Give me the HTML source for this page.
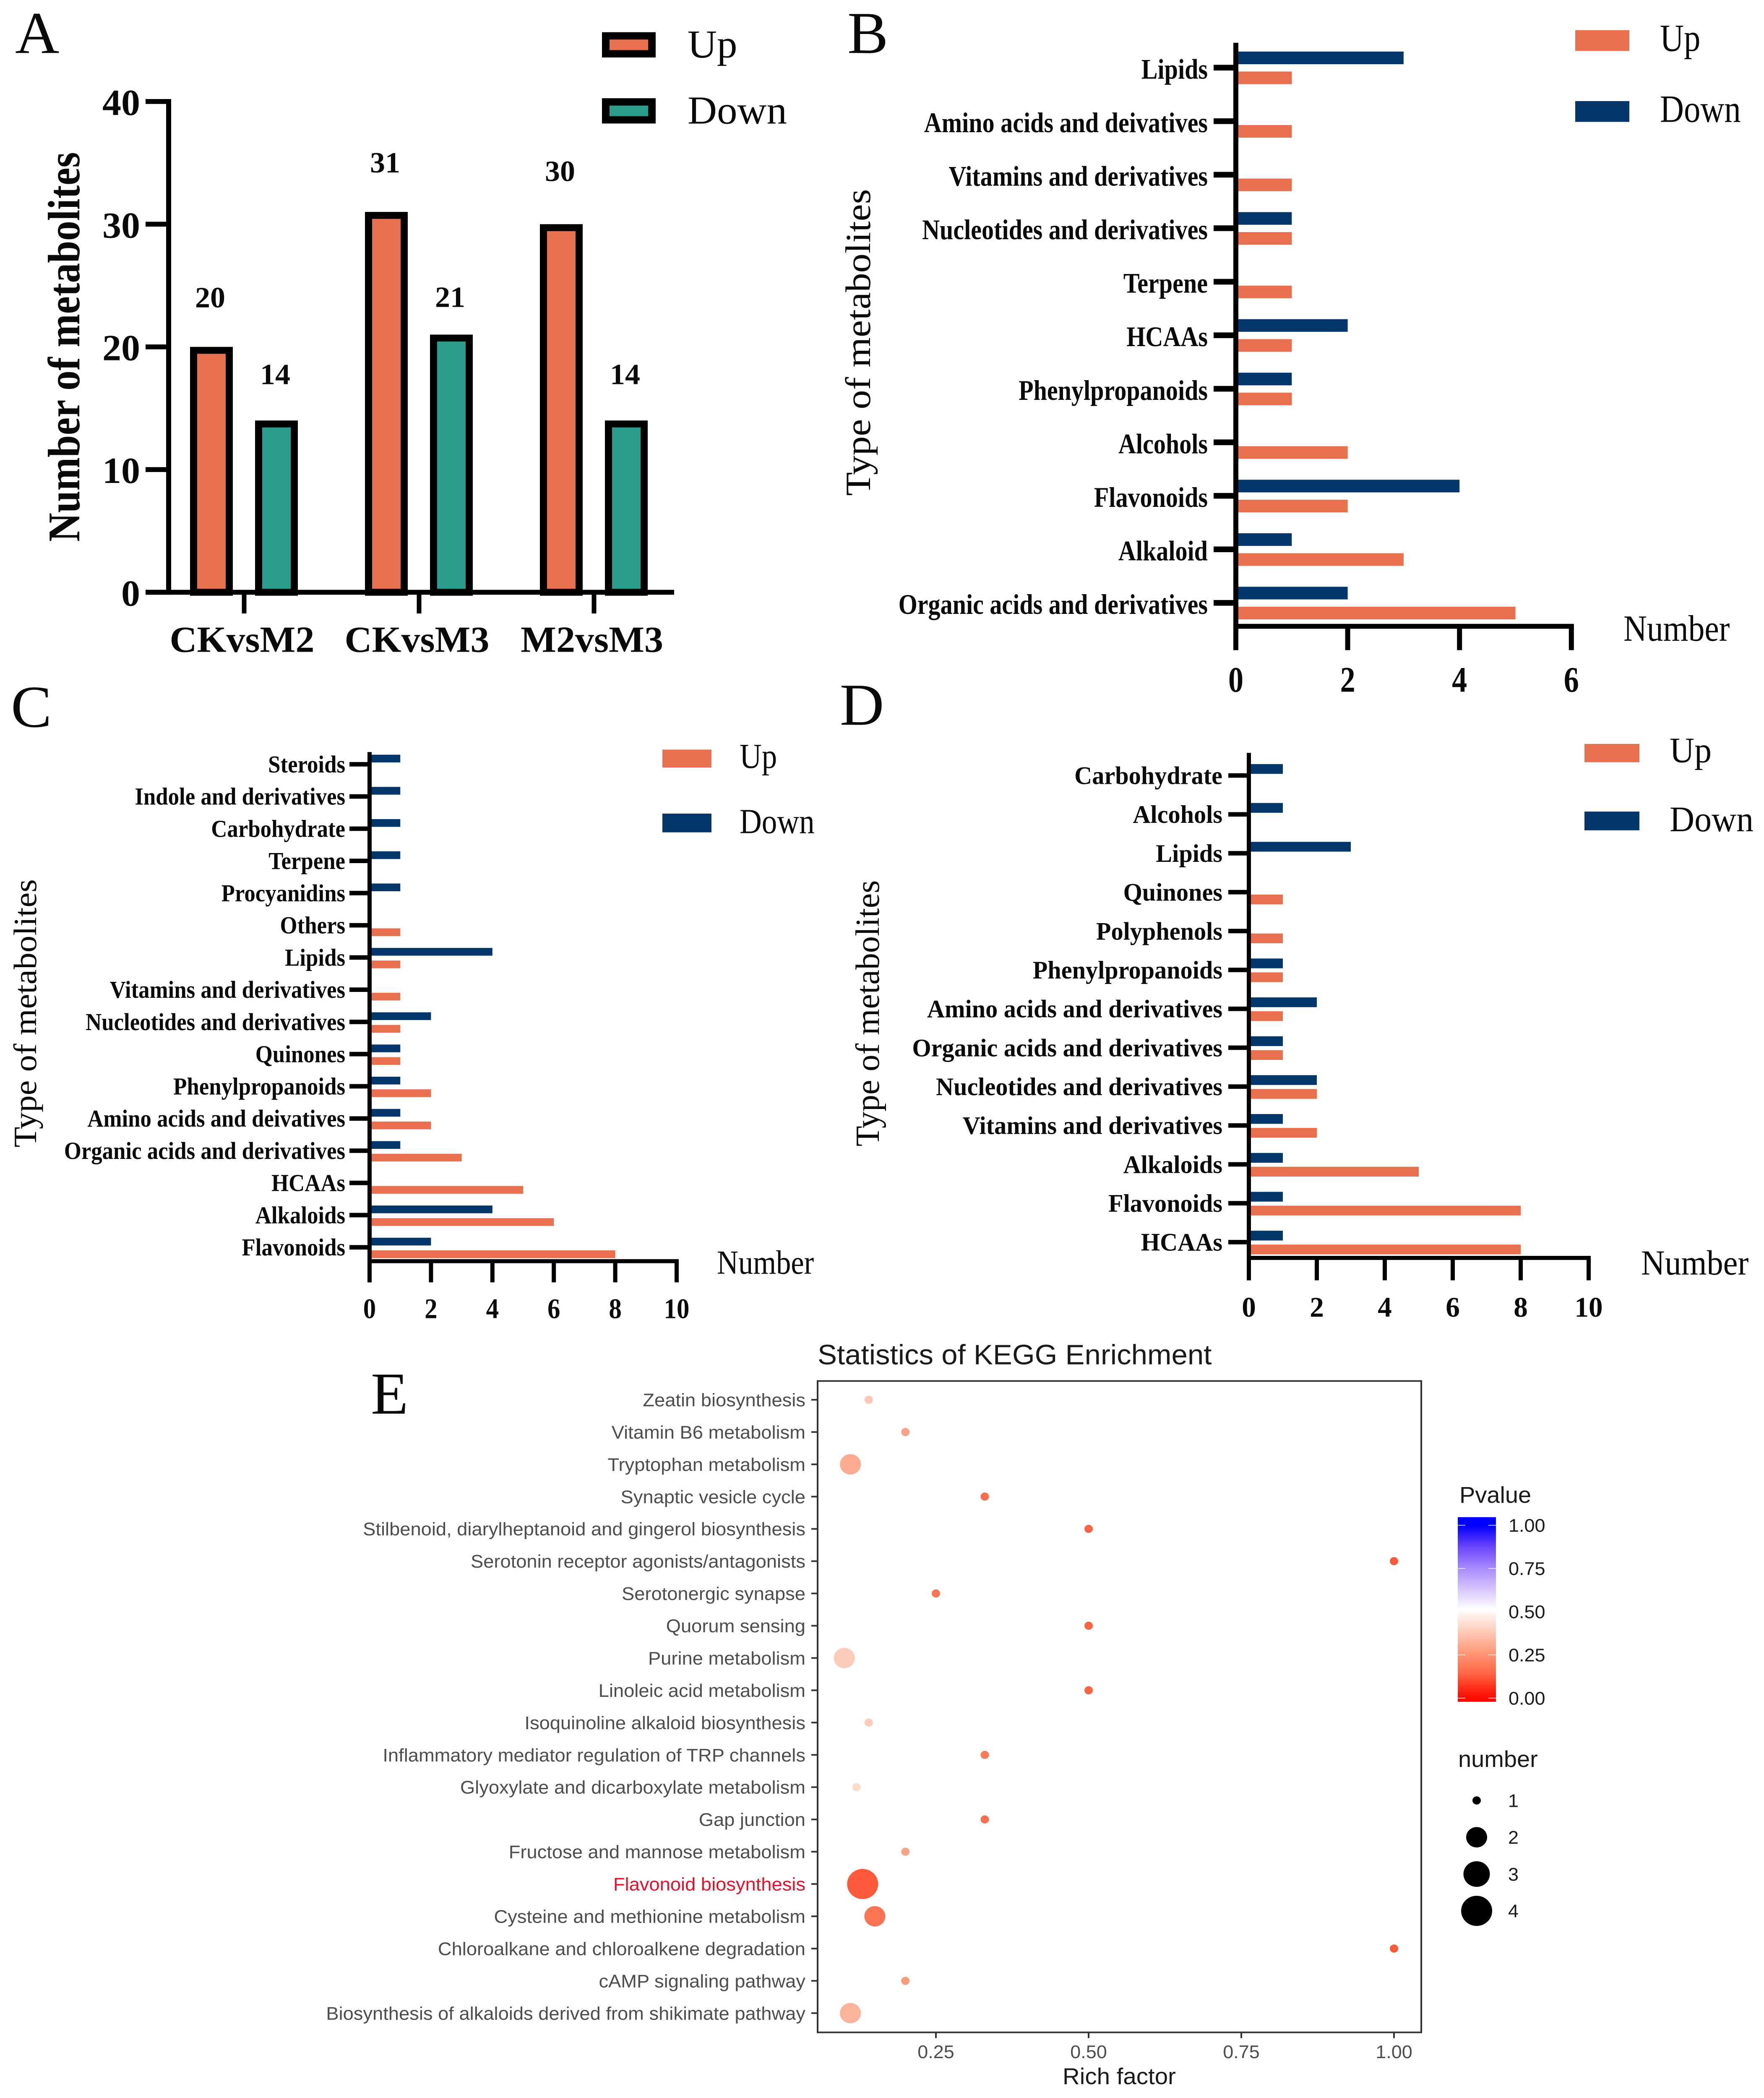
<!DOCTYPE html>
<html lang="en">
<head>
<meta charset="utf-8">
<title>Metabolite differential analysis figure</title>
<style>
html,body{margin:0;padding:0;background:#fff;width:100%;height:100%}
svg{display:block;width:100vw;height:100vh}
.serif{font-family:"Liberation Serif",serif;fill:#0a0a0a}
.sans{font-family:"Liberation Sans",sans-serif}
</style>
</head>
<body>
<svg id="figure" xmlns="http://www.w3.org/2000/svg" viewBox="0 0 4205 5147" preserveAspectRatio="none">
  <defs>
    <linearGradient id="pvalue-gradient" x1="0" y1="0" x2="0" y2="1">
      <stop offset="0" stop-color="#0000FF"/>
      <stop offset="0.045" stop-color="#0000FF"/>
      <stop offset="0.16" stop-color="#6A44FF"/>
      <stop offset="0.28" stop-color="#A88CFF"/>
      <stop offset="0.39" stop-color="#D7C5FF"/>
      <stop offset="0.5" stop-color="#FFFFFF"/>
      <stop offset="0.61" stop-color="#FFCFBD"/>
      <stop offset="0.72" stop-color="#FF9E81"/>
      <stop offset="0.84" stop-color="#FF6A46"/>
      <stop offset="0.955" stop-color="#FF1A0A"/>
      <stop offset="1" stop-color="#FF0000"/>
    </linearGradient>
  </defs>
  <rect width="4205" height="5147" fill="#fff"/>

  <!-- Panel letters -->
  <text class="serif" x="36" y="130" font-size="146">A</text>
  <text class="serif" x="2020" y="130" font-size="146">B</text>
  <text class="serif" x="26" y="1783" font-size="146">C</text>
  <text class="serif" x="2002" y="1778" font-size="146">D</text>
  <text class="serif" x="884" y="3468" font-size="146">E</text>

  <!-- Panel A legend -->
  <g>
    <rect x="1444" y="88" width="110" height="44" fill="#E8704F" stroke="#000" stroke-width="18"/>
    <text class="serif" x="1639" y="141" font-size="97">Up</text>
    <rect x="1444" y="250" width="110" height="44" fill="#2A9D8C" stroke="#000" stroke-width="18"/>
    <text class="serif" x="1639" y="303" font-size="97">Down</text>
  </g>
  <text class="serif" font-weight="700" font-size="108" text-anchor="middle" transform="translate(189,851) rotate(-90) scale(.907,1)">Number of metabolites</text>

  <!-- Panel B legend and titles -->
  <g>
    <rect x="3755" y="74" width="129" height="51" fill="#E8704F"/>
    <text class="serif" font-size="95" transform="translate(3957,125) scale(.83,1)">Up</text>
    <rect x="3755" y="248" width="129" height="51" fill="#03376B"/>
    <text class="serif" font-size="95" transform="translate(3957,299) scale(.83,1)">Down</text>
  </g>
  <text class="serif" font-size="85" text-anchor="middle" transform="translate(2074,840) rotate(-90) scale(1.117,1)">Type of metabolites</text>
  <text class="serif" font-size="91" transform="translate(3870,1572) scale(.85,1)">Number</text>

  <!-- Panel C legend and titles -->
  <g>
    <rect x="1579" y="1839" width="117" height="44" fill="#E8704F"/>
    <text class="serif" font-size="86" transform="translate(1763,1884) scale(.85,1)">Up</text>
    <rect x="1579" y="1996" width="117" height="46" fill="#03376B"/>
    <text class="serif" font-size="86" transform="translate(1763,2044) scale(.85,1)">Down</text>
  </g>
  <text class="serif" font-size="77" text-anchor="middle" transform="translate(86,2486) rotate(-90) scale(1.078,1)">Type of metabolites</text>
  <text class="serif" font-size="83" transform="translate(1709,3125) scale(.85,1)">Number</text>

  <!-- Panel D legend and titles -->
  <g>
    <rect x="3777" y="1825" width="131" height="45" fill="#E8704F"/>
    <text class="serif" font-size="88" transform="translate(3980,1870) scale(.93,1)">Up</text>
    <rect x="3777" y="1991" width="131" height="46" fill="#03376B"/>
    <text class="serif" font-size="88" transform="translate(3980,2039) scale(.93,1)">Down</text>
  </g>
  <text class="serif" font-size="80" text-anchor="middle" transform="translate(2095,2486) rotate(-90) scale(1.03,1)">Type of metabolites</text>
  <text class="serif" font-size="86" transform="translate(3912,3127) scale(.91,1)">Number</text>

  <!-- Panel E static parts -->
  <text class="sans" x="1949" y="3347" font-size="69" fill="#1a1a1a">Statistics of KEGG Enrichment</text>
  <text class="sans" x="2668" y="5113" font-size="56.5" text-anchor="middle" fill="#1a1a1a">Rich factor</text>
  <text class="sans" x="3479" y="3687" font-size="56" fill="#1a1a1a">Pvalue</text>
  <rect x="3475" y="3722" width="91" height="453" fill="url(#pvalue-gradient)"/>
  <text class="sans" x="3476" y="4335" font-size="56" fill="#1a1a1a">number</text>
</svg>

<script>
// ---------- Panel A data ----------
const aCategories = ['CKvsM2', 'CKvsM3', 'M2vsM3'];
const aUp = [20, 31, 30];
const aDown = [14, 21, 14];
const aTicks = [0, 10, 20, 30, 40];

// ---------- Panel B data (top to bottom) ----------
const bCategories = ['Lipids', 'Amino acids and deivatives', 'Vitamins and derivatives', 'Nucleotides and derivatives', 'Terpene', 'HCAAs', 'Phenylpropanoids', 'Alcohols', 'Flavonoids', 'Alkaloid', 'Organic acids and derivatives'];
const bDown = [3, 0, 0, 1, 0, 2, 1, 0, 4, 1, 2];
const bUp = [1, 1, 1, 1, 1, 1, 1, 2, 2, 3, 5];
const bTicks = [0, 2, 4, 6];

// ---------- Panel C data (top to bottom) ----------
const cCategories = ['Steroids', 'Indole and derivatives', 'Carbohydrate', 'Terpene', 'Procyanidins', 'Others', 'Lipids', 'Vitamins and derivatives', 'Nucleotides and derivatives', 'Quinones', 'Phenylpropanoids', 'Amino acids and deivatives', 'Organic acids and derivatives', 'HCAAs', 'Alkaloids', 'Flavonoids'];
const cDown = [1, 1, 1, 1, 1, 0, 4, 0, 2, 1, 1, 1, 1, 0, 4, 2];
const cUp = [0, 0, 0, 0, 0, 1, 1, 1, 1, 1, 2, 2, 3, 5, 6, 8];
const cTicks = [0, 2, 4, 6, 8, 10];

// ---------- Panel D data (top to bottom) ----------
const dCategories = ['Carbohydrate', 'Alcohols', 'Lipids', 'Quinones', 'Polyphenols', 'Phenylpropanoids', 'Amino acids and derivatives', 'Organic acids and derivatives', 'Nucleotides and derivatives', 'Vitamins and derivatives', 'Alkaloids', 'Flavonoids', 'HCAAs'];
const dDown = [1, 1, 3, 0, 0, 1, 2, 1, 2, 1, 1, 1, 1];
const dUp = [0, 0, 0, 1, 1, 1, 1, 1, 2, 2, 5, 8, 8];
const dTicks = [0, 2, 4, 6, 8, 10];

// ---------- Panel E data (top to bottom) ----------
const ePathways = ['Zeatin biosynthesis', 'Vitamin B6 metabolism', 'Tryptophan metabolism', 'Synaptic vesicle cycle', 'Stilbenoid, diarylheptanoid and gingerol biosynthesis', 'Serotonin receptor agonists/antagonists', 'Serotonergic synapse', 'Quorum sensing', 'Purine metabolism', 'Linoleic acid metabolism', 'Isoquinoline alkaloid biosynthesis', 'Inflammatory mediator regulation of TRP channels', 'Glyoxylate and dicarboxylate metabolism', 'Gap junction', 'Fructose and mannose metabolism', 'Flavonoid biosynthesis', 'Cysteine and methionine metabolism', 'Chloroalkane and chloroalkene degradation', 'cAMP signaling pathway', 'Biosynthesis of alkaloids derived from shikimate pathway'];
const eRichFactor = [0.14, 0.2, 0.11, 0.33, 0.5, 1, 0.25, 0.5, 0.1, 0.5, 0.14, 0.33, 0.12, 0.33, 0.2, 0.13, 0.15, 1, 0.2, 0.11];
const eNumber = [1, 1, 2, 1, 1, 1, 1, 1, 2, 1, 1, 1, 1, 1, 1, 4, 2, 1, 1, 2];
const ePvalue = [0.35, 0.26, 0.28, 0.15, 0.13, 0.11, 0.16, 0.13, 0.36, 0.13, 0.36, 0.17, 0.40, 0.15, 0.26, 0.11, 0.16, 0.11, 0.24, 0.30];
const eXTicks = [0.25, 0.5, 0.75, 1];
const ePvalueTicks = [1, 0.75, 0.5, 0.25, 0];
const eNumberLevels = [1, 2, 3, 4];

const SVGNS = 'http://www.w3.org/2000/svg';
const root = document.getElementById('figure');
const UP_COLOR = '#E8704F';
const TEAL_COLOR = '#2A9D8C';
const NAVY_COLOR = '#03376B';

function mk(parent, tag, attrs, text) {
  const el = document.createElementNS(SVGNS, tag);
  for (const k in attrs) el.setAttribute(k, attrs[k]);
  if (text !== undefined) el.textContent = text;
  parent.appendChild(el);
  return el;
}
function slug(s) {
  return String(s).toLowerCase().replace(/[^a-z0-9]+/g, '-').replace(/^-|-$/g, '');
}

// ---------- Panel A ----------
(function drawPanelA() {
  const yScale = v => 1453 - v * 30.1;
  const xCenter = i => 582 + i * 417;
  const g = mk(root, 'g', {});
  
  

  function drawBar(cat, value, cx, fill, series, gap) {
    const top = yScale(value);
    const bar = mk(g, 'rect', { x: cx - 42.5, y: top + 8.5, width: 85, height: yScale(0) - top - 8.5, fill: fill, stroke: '#000', 'stroke-width': 17 });
    
    
    const lbl = mk(g, 'text', { class: 'serif', x: cx - 3, y: top - gap, 'font-size': 72, 'font-weight': 700, 'text-anchor': 'middle' }, String(value));
    
    
  }
  aCategories.forEach((cat, i) => {
    const upGap = cat === 'M2vsM3' ? 106 : 97;
    const downGap = cat === 'CKvsM3' ? 68 : 89;
    drawBar(cat, aUp[i], xCenter(i) - 78, UP_COLOR, 'up', upGap);
    drawBar(cat, aDown[i], xCenter(i) + 77, TEAL_COLOR, 'down', downGap);
    const tick = mk(g, 'rect', { x: xCenter(i) - 5.5, y: yScale(0), width: 11, height: 52, fill: '#000' });
    
    
    const lbl = mk(g, 'text', { class: 'serif', x: xCenter(i) - 5, y: 1599, 'font-size': 90, 'font-weight': 700, 'text-anchor': 'middle' }, cat);
    
    
  });
  const yLine = mk(g, 'rect', { x: 396, y: yScale(40) - 6, width: 12, height: yScale(0) - yScale(40) + 12, fill: '#000' });
  
  
  const xLine = mk(g, 'rect', { x: 347, y: yScale(0) - 6, width: 1260, height: 12, fill: '#000' });
  
  
  aTicks.forEach(v => {
    const tick = mk(g, 'rect', { x: 347, y: yScale(v) - 6, width: 55, height: 12, fill: '#000' });
    
    
    const lbl = mk(g, 'text', { class: 'serif', x: 334, y: yScale(v) + 33, 'font-size': 90, 'font-weight': 700, 'text-anchor': 'end' }, String(v));
    
    
  });
})();

// ---------- Horizontal bar panels B, C, D ----------
function drawHorizontalPanel(panel, categories, down, up, ticks, L) {
  const xScale = v => L.x0 + v * L.unit;
  const yBand = i => L.firstY + i * L.stepY;
  const g = mk(root, 'g', {});
  
  

  categories.forEach((cat, i) => {
    const yc = yBand(i);
    if (down[i] > 0) {
      const bar = mk(g, 'rect', { x: L.x0, y: yc - L.downOffset - L.barH / 2, width: xScale(down[i]) - L.x0, height: L.barH, fill: NAVY_COLOR });
      
      
    }
    if (up[i] > 0) {
      const bar = mk(g, 'rect', { x: L.x0, y: yc + L.upOffset - L.barH / 2, width: xScale(up[i]) - L.x0, height: L.barH, fill: UP_COLOR });
      
      
    }
    const tick = mk(g, 'rect', { x: L.tickLeft, y: yc - L.tickT / 2, width: L.x0 - L.tickLeft, height: L.tickT, fill: '#000' });
    
    
    const lbl = mk(g, 'text', { class: 'serif', 'font-size': L.catSize, 'font-weight': 700, 'text-anchor': 'end', transform: 'translate(' + L.catRight + ',' + (yc + L.catDy) + ') scale(' + L.catSx + ',1)' }, cat);
    
    
  });

  const yLine = mk(g, 'rect', { x: L.x0 - L.axisW / 2, y: L.axisTop, width: L.axisW, height: L.tickBottom - L.axisTop, fill: '#000' });
  
  
  const xLine = mk(g, 'rect', { x: L.x0 - L.axisW / 2, y: L.axisY - L.axisW / 2, width: xScale(ticks[ticks.length - 1]) - L.x0 + L.axisW, height: L.axisW, fill: '#000' });
  
  
  ticks.forEach(v => {
    const tick = mk(g, 'rect', { x: xScale(v) - L.axisW / 2, y: L.axisY, width: L.axisW, height: L.tickBottom - L.axisY, fill: '#000' });
    
    
    const lbl = mk(g, 'text', { class: 'serif', 'font-size': L.numSize, 'font-weight': 700, 'text-anchor': 'middle', transform: 'translate(' + xScale(v) + ',' + L.numY + ') scale(' + L.numSx + ',1)' }, String(v));
    
    
  });
}

drawHorizontalPanel('b', bCategories, bDown, bUp, bTicks, {
  x0: 2946, unit: 133.3, axisTop: 105, axisY: 1536.5, tickBottom: 1595, axisW: 12,
  firstY: 166, stepY: 131.3, barH: 31, downOffset: 24, upOffset: 25,
  tickLeft: 2893, tickT: 14, catRight: 2879, catDy: 27, catSize: 70, catSx: 0.83,
  numSize: 88, numSx: 0.82, numY: 1697
});
drawHorizontalPanel('c', cCategories, cDown, cUp, cTicks, {
  x0: 881, unit: 73.2, axisTop: 1845, axisY: 3094, tickBottom: 3146, axisW: 10,
  firstY: 1875, stepY: 79, barH: 19, downOffset: 14, upOffset: 17,
  tickLeft: 833, tickT: 11, catRight: 823, catDy: 20, catSize: 60, catSx: 0.88,
  numSize: 70, numSx: 0.87, numY: 3234
});
drawHorizontalPanel('d', dCategories, dDown, dUp, dTicks, {
  x0: 2977, unit: 81, axisTop: 1847, axisY: 3086, tickBottom: 3141, axisW: 10,
  firstY: 1902.5, stepY: 95.4, barH: 24, downOffset: 16, upOffset: 18,
  tickLeft: 2928, tickT: 11, catRight: 2914, catDy: 21, catSize: 62, catSx: 0.94,
  numSize: 70, numSx: 0.96, numY: 3230
});

// ---------- Panel E ----------
(function drawPanelE() {
  const xScale = v => 2231 + (v - 0.25) * 1456;
  const yRow = i => 3434 + i * 79.2;
  const legendY = v => 4166 - v * 424;
  const sizeRadius = n => [0, 10, 25, 31.5, 37][n];
  const legendRowY = n => 4417 + (n - 1) * 90.3;
  function pColor(p) {
    if (p <= 0.5) {
      const t = Math.max(p, 0) / 0.5;
      return 'rgb(252,' + Math.round(255 * Math.pow(t, 0.69)) + ',' + Math.round(255 * Math.pow(t, 0.98)) + ')';
    }
    const t = (1 - Math.min(p, 1)) / 0.5;
    return 'rgb(' + Math.round(255 * Math.pow(t, 0.9)) + ',' + Math.round(255 * Math.pow(t, 0.9)) + ',255)';
  }
  const g = mk(root, 'g', {});
  
  

  const frame = mk(g, 'rect', { x: 1949, y: 3388, width: 1439, height: 1598, fill: '#fff', stroke: '#333', 'stroke-width': 4 });
  
  

  ePathways.forEach((name, i) => {
    const tick = mk(g, 'rect', { x: 1934, y: yRow(i) - 2, width: 15, height: 4, fill: '#333' });
    
    
    const isKey = name === 'Flavonoid biosynthesis';
    const lbl = mk(g, 'text', { class: 'sans', x: 1920, y: yRow(i) + 16, 'font-size': 45.3, 'text-anchor': 'end', fill: isKey ? '#E3122B' : '#4D4D4D' }, name);
    
    
    const dot = mk(g, 'circle', { cx: xScale(eRichFactor[i]), cy: yRow(i), r: sizeRadius(eNumber[i]), fill: pColor(ePvalue[i]) });
    
    
  });

  eXTicks.forEach(v => {
    const tick = mk(g, 'rect', { x: xScale(v) - 2, y: 4986, width: 4, height: 14, fill: '#333' });
    
    
    const lbl = mk(g, 'text', { class: 'sans', x: xScale(v), y: 5049, 'font-size': 45, 'text-anchor': 'middle', fill: '#4D4D4D' }, v.toFixed(2));
    
    
  });

  ePvalueTicks.forEach(v => {
    const tl = mk(g, 'rect', { x: 3475, y: legendY(v) - 1, width: 18, height: 2, fill: '#fff', opacity: 0.7 });
    
    
    const tr = mk(g, 'rect', { x: 3548, y: legendY(v) - 1, width: 18, height: 2, fill: '#fff', opacity: 0.7 });
    
    
    const lbl = mk(g, 'text', { class: 'sans', x: 3596, y: legendY(v) + 16, 'font-size': 45, fill: '#1a1a1a' }, v.toFixed(2));
    
    
  });

  eNumberLevels.forEach(n => {
    const dot = mk(g, 'circle', { cx: 3520, cy: legendRowY(n), r: sizeRadius(n), fill: '#000' });
    
    
    const lbl = mk(g, 'text', { class: 'sans', x: 3595, y: legendRowY(n) + 16, 'font-size': 45, fill: '#1a1a1a' }, String(n));
    
    
  });
})();
</script>
</body>
</html>
